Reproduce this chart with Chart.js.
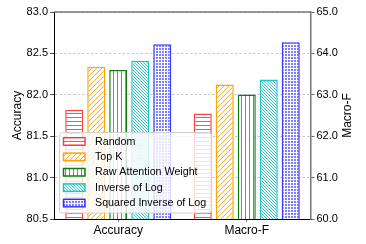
<!DOCTYPE html>
<html><head><meta charset="utf-8">
<script src="https://cdn.jsdelivr.net/npm/chart.js@4/dist/chart.umd.min.js"></script>
<style>html,body{margin:0;padding:0;background:#fff}#wrap{width:366px;height:244px}</style>
</head><body><div id="wrap"><canvas id="c" width="366" height="244"></canvas></div>
<script>
const categories = ['Accuracy', 'Macro-F'];
const methods = ['Random', 'Top K', 'Raw Attention Weight', 'Inverse of Log', 'Squared Inverse of Log'];
const accuracy = [81.82, 82.34, 82.30, 82.41, 82.61];
const macroF = [62.55, 63.25, 63.01, 63.37, 64.27];
const accTicks = [80.5, 81.0, 81.5, 82.0, 82.5, 83.0];
const macroTicks = [60, 61, 62, 63, 64, 65];

const colors = ['rgba(255,30,30,0.85)', '#ffa500', '#0a800a', '#1cc4c4', 'rgba(20,20,255,0.85)'];
const hatchColors = ['rgba(255,40,40,0.8)', '#ffb020', 'rgba(20,140,20,0.75)', '#30c8c8', 'rgba(40,40,255,0.6)'];
const hatches = ['h', 'f', 'v', 'b', 'd'];
const FONT = 'Liberation Sans, Arial, Helvetica, sans-serif';

function pattern(kind, color) {
  const sizes = {h: 4, v: 4, f: 5, b: 3, d: 3};
  const s = sizes[kind];
  const c = document.createElement('canvas');
  c.width = s; c.height = s;
  const g = c.getContext('2d');
  g.fillStyle = '#fff'; g.fillRect(0, 0, s, s);
  g.strokeStyle = color; g.fillStyle = color; g.lineWidth = 1;
  if (kind === 'h') g.fillRect(0, 1, s, 1);
  if (kind === 'v') g.fillRect(1, 0, 1, s);
  if (kind === 'f') {
    g.beginPath();
    g.moveTo(-1, s + 1); g.lineTo(s + 1, -1);
    g.moveTo(-1, 1); g.lineTo(1, -1);
    g.moveTo(s - 1, s + 1); g.lineTo(s + 1, s - 1);
    g.stroke();
  }
  if (kind === 'b') {
    g.beginPath();
    g.moveTo(-1, -1); g.lineTo(s + 1, s + 1);
    g.moveTo(s - 1, -1); g.lineTo(s + 1, 1);
    g.moveTo(-1, s - 1); g.lineTo(1, s + 1);
    g.stroke();
  }
  if (kind === 'd') { g.fillRect(0, 0, 2, 2); }
  return g.createPattern(c, 'repeat');
}

const datasets = [];
methods.forEach((m, i) => {
  datasets.push({label: m, data: [accuracy[i], null], yAxisID: 'y',
    backgroundColor: pattern(hatches[i], hatchColors[i]), borderColor: colors[i],
    borderWidth: 1.5, borderSkipped: false, skipNull: true,
    categoryPercentage: 0.856, barPercentage: 0.82});
});
methods.forEach((m, i) => {
  datasets.push({label: m, data: [null, macroF[i]], yAxisID: 'y1',
    backgroundColor: pattern(hatches[i], hatchColors[i]), borderColor: colors[i],
    borderWidth: 1.5, borderSkipped: false, skipNull: true,
    categoryPercentage: 0.856, barPercentage: 0.82});
});

const framePlugin = {
  id: 'frame',
  afterDraw(chart) {
    const {ctx, chartArea: a} = chart;
    ctx.save();
    ctx.strokeStyle = '#777'; ctx.lineWidth = 1.5;
    ctx.beginPath(); ctx.moveTo(a.left, a.top); ctx.lineTo(a.right, a.top); ctx.stroke();
    ctx.fillStyle = '#000';
    ctx.font = '12px ' + FONT;
    ctx.translate(348, (a.top + a.bottom) / 2);
    ctx.rotate(-Math.PI / 2);
    ctx.textAlign = 'center'; ctx.textBaseline = 'middle';
    ctx.fillText('Macro-F', 0, 0);
    ctx.restore();

    ctx.save();
    const lx = 59.5, ly = 132.5, lw = 152, lh = 80.5;
    ctx.fillStyle = 'rgba(255,255,255,0.8)';
    ctx.strokeStyle = '#d0d0d0'; ctx.lineWidth = 1;
    ctx.beginPath();
    ctx.roundRect(lx, ly, lw, lh, 3);
    ctx.fill(); ctx.stroke();
    ctx.font = '10.7px ' + FONT;
    ctx.textBaseline = 'middle'; ctx.textAlign = 'left';
    methods.forEach((m, i) => {
      const y = 137.7 + i * 15.4;
      ctx.fillStyle = pattern(hatches[i], hatchColors[i]);
      ctx.fillRect(63.5, y, 21.5, 7.5);
      ctx.strokeStyle = colors[i]; ctx.lineWidth = 1.5;
      ctx.strokeRect(63.5, y, 21.5, 7.5);
      ctx.fillStyle = '#000';
      ctx.fillText(m, 95, y + 4);
    });
    ctx.restore();
  }
};

new Chart(document.getElementById('c'), {
  type: 'bar',
  data: {labels: categories, datasets},
  options: {
    responsive: false, animation: false, devicePixelRatio: 1,
    layout: {padding: {top: 12, left: 0, right: 0, bottom: 0}},
    plugins: {legend: {display: false}, tooltip: {enabled: false}},
    scales: {
      x: {
        afterFit: s => { s.height = 25; },
        grid: {offset: false, drawOnChartArea: false, tickLength: 3, color: '#888'},
        border: {color: '#000', width: 1},
        ticks: {color: '#000', font: {family: FONT, size: 12}, padding: 1}
      },
      y: {
        position: 'left', min: 80.5, max: 83.0,
        afterFit: s => { s.width = 54; },
        afterBuildTicks: s => { s.ticks = accTicks.map(v => ({value: v})); },
        grid: {color: '#bbbbbb', lineWidth: 0.8, tickLength: 3.5, tickColor: '#000', tickWidth: 1, tickBorderDash: [1, 0]},
        border: {color: '#000', width: 1, dash: [2.5, 2]},
        ticks: {color: '#000', font: {family: FONT, size: 11}, padding: 2.5, callback: v => Number(v).toFixed(1)},
        title: {display: true, text: 'Accuracy', color: '#000', font: {family: FONT, size: 12}, padding: {top: 10, bottom: 0}}
      },
      y1: {
        position: 'right', min: 60, max: 65,
        afterFit: s => { s.width = 55; },
        afterBuildTicks: s => { s.ticks = macroTicks.map(v => ({value: v})); },
        grid: {drawOnChartArea: false, tickLength: 3.5, tickColor: '#666', tickWidth: 1},
        border: {color: '#777', width: 1.5},
        ticks: {color: '#000', font: {family: FONT, size: 11}, padding: 2, callback: v => Number(v).toFixed(1)}
      }
    }
  },
  plugins: [framePlugin]
});
</script></body></html>
